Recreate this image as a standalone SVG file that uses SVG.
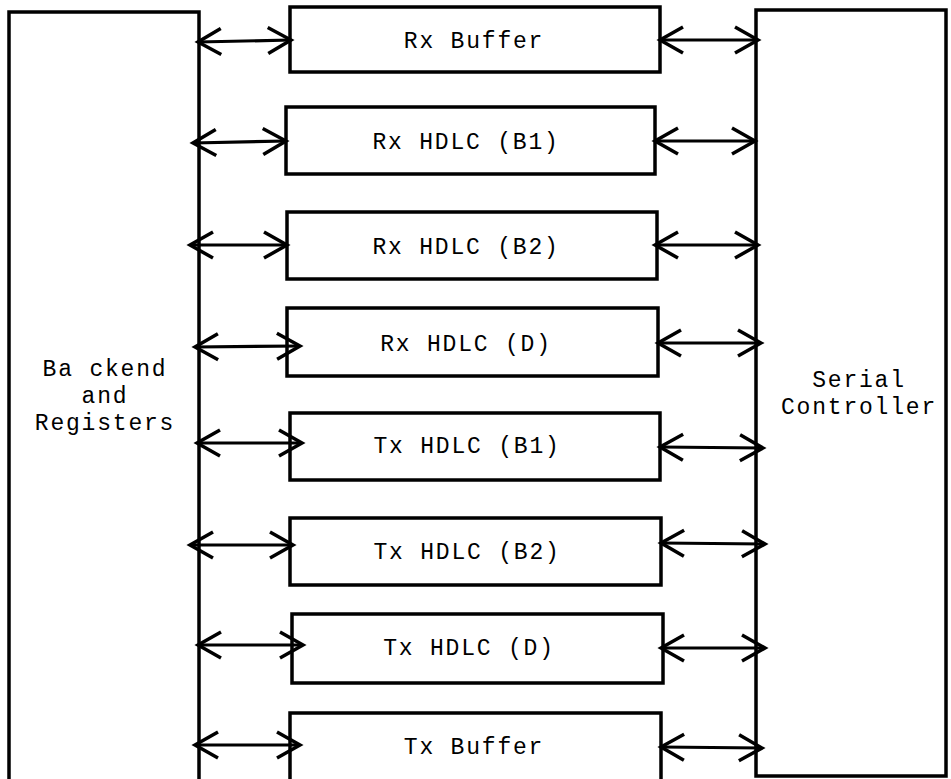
<svg xmlns="http://www.w3.org/2000/svg" width="951" height="779" viewBox="0 0 951 779">
  <style>
    .box { fill: #ffffff; stroke: #000000; stroke-width: 3.5; }
    .lbl { font-family: "Liberation Mono", "Courier New", monospace; font-size: 23px; letter-spacing: 1.8px; fill: #000000; text-anchor: middle; }
    .link { fill: none; stroke: #000000; stroke-width: 3.2; marker-start: url(#head); marker-end: url(#head); }
  </style>
  <defs>
    <!-- open V arrowhead, used at both ends of every link -->
    <marker id="head" markerUnits="userSpaceOnUse" viewBox="-30 -16 34 32" refX="0" refY="0" markerWidth="34" markerHeight="32" orient="auto-start-reverse" overflow="visible">
      <path d="M -23 -13 L 0 0 L -23 13" fill="none" stroke="#000000" stroke-width="3.5" stroke-linejoin="miter"/>
    </marker>
  </defs>
  <rect width="951" height="779" fill="#ffffff"/>

  <g id="backend">
    <rect class="box" x="9" y="12" width="190" height="790"/>
    <text class="lbl" x="105" y="376">Ba ckend</text>
    <text class="lbl" x="105" y="403">and</text>
    <text class="lbl" x="105" y="430">Registers</text>
  </g>

  <g id="serial-controller">
    <rect class="box" x="756" y="10" width="190" height="766"/>
    <text class="lbl" x="859" y="387">Serial</text>
    <text class="lbl" x="859" y="414">Controller</text>
  </g>

  <g id="rx-buffer">
    <rect class="box" x="290" y="7" width="370" height="65"/>
    <text class="lbl" x="474" y="48">Rx Buffer</text>
  </g>
  <g id="rx-hdlc-b1">
    <rect class="box" x="286" y="107" width="369" height="67"/>
    <text class="lbl" x="466" y="149">Rx HDLC (B1)</text>
  </g>
  <g id="rx-hdlc-b2">
    <rect class="box" x="287" y="212" width="370" height="67"/>
    <text class="lbl" x="466" y="254">Rx HDLC (B2)</text>
  </g>
  <g id="rx-hdlc-d">
    <rect class="box" x="287" y="308" width="371" height="68"/>
    <text class="lbl" x="466" y="351">Rx HDLC (D)</text>
  </g>
  <g id="tx-hdlc-b1">
    <rect class="box" x="290" y="413" width="370" height="67"/>
    <text class="lbl" x="467" y="453">Tx HDLC (B1)</text>
  </g>
  <g id="tx-hdlc-b2">
    <rect class="box" x="290" y="518" width="371" height="67"/>
    <text class="lbl" x="467" y="559">Tx HDLC (B2)</text>
  </g>
  <g id="tx-hdlc-d">
    <rect class="box" x="292" y="614" width="371" height="69"/>
    <text class="lbl" x="469" y="655">Tx HDLC (D)</text>
  </g>
  <g id="tx-buffer">
    <rect class="box" x="290" y="713" width="371" height="80"/>
    <text class="lbl" x="474" y="754">Tx Buffer</text>
  </g>

  <g id="connectors">
    <!-- backend side -->
    <path class="link" d="M 198 42 L 291 40"/>
    <path class="link" d="M 193 143 L 286 141"/>
    <path class="link" d="M 190 245 L 287 245"/>
    <path class="link" d="M 195 347 L 300 346"/>
    <path class="link" d="M 197 443 L 302 443"/>
    <path class="link" d="M 190 545 L 293 545"/>
    <path class="link" d="M 198 645 L 303 645"/>
    <path class="link" d="M 195 745 L 300 745"/>
    <!-- serial controller side -->
    <path class="link" d="M 660 40 L 758 40"/>
    <path class="link" d="M 655 141 L 755 141"/>
    <path class="link" d="M 655 245 L 758 245"/>
    <path class="link" d="M 658 343 L 761 343"/>
    <path class="link" d="M 660 447 L 763 448"/>
    <path class="link" d="M 661 543 L 765 544"/>
    <path class="link" d="M 661 648 L 765 648"/>
    <path class="link" d="M 661 747 L 762 748"/>
  </g>
</svg>
